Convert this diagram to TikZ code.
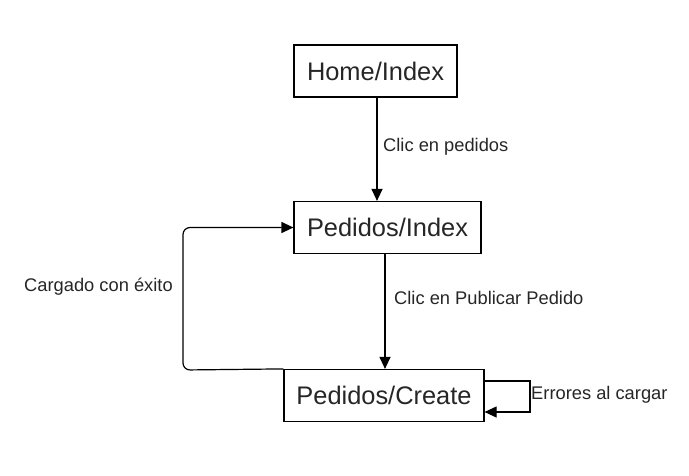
\documentclass[tikz,border=0pt]{standalone}
\usepackage{fontspec}
\setmainfont{Liberation Sans}
\usetikzlibrary{arrows.meta,calc}
\tikzset{
  statebox/.style={draw=black,line width=1.2pt,minimum width=#1,minimum height=52pt,inner sep=0pt,font=\fontsize{25.4}{28}\selectfont,text=black!85},
  lbl/.style={inner sep=0pt,anchor=west,font=\fontsize{18.3}{21}\selectfont,text=black!85},
  conn/.style={draw=black,line width=1.2pt,-{Triangle[length=12pt,width=11pt]}},
}
\begin{document}
\begin{tikzpicture}[x=1pt,y=-1pt]
\useasboundingbox (0,0) rectangle (689,475);
\node[statebox=163pt] (home) at (375.5,71) {Home/Index};
\node[statebox=187pt] (pindex) at (387.5,227.5) {Pedidos/Index};
\node[statebox=200pt] (pcreate) at (384,395.5) {Pedidos/Create};
\draw[conn] (home.south -| 377,0) -- (pindex.north -| 377,0);
\draw[conn] (pindex.south -| 385,0) -- (pcreate.north -| 385,0);
\coordinate (lc1) at (183,370);
\coordinate (lc2) at (183,227.5);
\draw[conn,rounded corners=7pt] (pcreate.north west) -- (lc1) -- (lc2) -- (pindex.west);
\coordinate (sl1) at (530,381);
\coordinate (sl2) at (530,412);
\draw[conn] (pcreate.east |- sl1) -- (sl1) -- (sl2) -- (pcreate.east |- sl2);
\node[lbl] (l1) at (383,147) {Clic en pedidos};
\node[lbl] (l2) at (394,298) {Clic en Publicar Pedido};
\node[lbl] (l3) at (24,287) {Cargado con éxito};
\node[lbl] (l4) at (531,395) {Errores al cargar};
\end{tikzpicture}
\end{document}
